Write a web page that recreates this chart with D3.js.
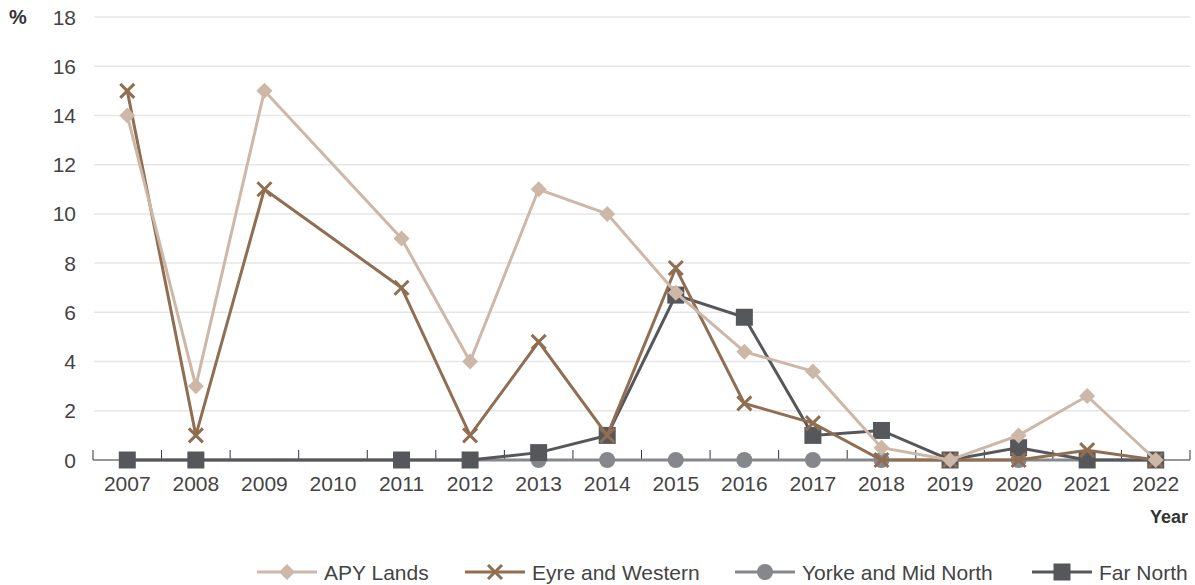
<!doctype html>
<html>
<head>
<meta charset="UTF-8">
<title>Regional chart</title>
<script src="https://cdn.jsdelivr.net/npm/d3@7"></script>
<style>
  body { margin: 0; background: #fff; }
  * { font-family: "Liberation Sans", Arial, sans-serif; }
</style>
</head>
<body>
<svg id="chart" width="1195" height="585"></svg>
<script>
// data (null = no point that year)
var years = ["2007","2008","2009","2010","2011","2012","2013","2014","2015","2016","2017","2018","2019","2020","2021","2022"];
var apyLands   = [14, 3, 15, null, 9, 4, 11, 10, 6.8, 4.4, 3.6, 0.5, 0, 1, 2.6, 0];
var eyreWest   = [15, 1, 11, null, 7, 1, 4.8, 1, 7.8, 2.3, 1.5, 0, 0, 0, 0.4, 0];
var yorkeMid   = [0, 0, null, null, 0, 0, 0, 0, 0, 0, 0, 0, 0, 0, 0, 0];
var farNorth   = [0, 0, null, null, 0, 0, 0.3, 1, 6.7, 5.8, 1, 1.2, 0, 0.5, 0, 0];
var yTicks = [0, 2, 4, 6, 8, 10, 12, 14, 16, 18];

// drawn bottom to top
var series = [
  {name: "Yorke and Mid North", values: yorkeMid, color: "#85878b", shape: "circle"},
  {name: "Far North",           values: farNorth, color: "#55575a", shape: "square"},
  {name: "Eyre and Western",    values: eyreWest, color: "#8f6e52", shape: "cross"},
  {name: "APY Lands",           values: apyLands, color: "#cdb8a8", shape: "diamond"}
];
var legendOrder = ["APY Lands", "Eyre and Western", "Yorke and Mid North", "Far North"];

var svg = d3.select("#chart");
var plotLeft = 93, plotRight = 1190, plotTop = 17, plotBottom = 460;

var x = d3.scaleBand().domain(years).range([plotLeft, plotRight]);
var y = d3.scaleLinear().domain([0, 18]).range([plotBottom, plotTop]);
var cx = function(yr) { return x(yr) + x.bandwidth() / 2; };

// gridlines
svg.append("g").selectAll("line")
  .data(yTicks.filter(function(d) { return d > 0; }))
  .enter().append("line")
    .attr("x1", plotLeft + 1).attr("x2", plotRight)
    .attr("y1", function(d) { return y(d); })
    .attr("y2", function(d) { return y(d); })
    .attr("stroke", "#e6e6e6")
    .attr("stroke-width", 1.5);

// y labels
svg.append("g").selectAll("text")
  .data(yTicks)
  .enter().append("text")
    .attr("x", 76)
    .attr("y", function(d) { return y(d); })
    .attr("dy", "0.36em")
    .attr("text-anchor", "end")
    .attr("font-size", 21)
    .attr("fill", "#444")
    .text(function(d) { return d; });

svg.append("text")
  .attr("x", 9).attr("y", y(18)).attr("dy", "0.36em")
  .attr("font-size", 20).attr("font-weight", "bold").attr("fill", "#333")
  .text("%");

// x axis: line at zero, ticks pointing up at band edges
var edges = years.map(function(d) { return x(d); }).concat([plotRight]);
svg.append("line")
  .attr("x1", plotLeft).attr("x2", plotRight)
  .attr("y1", plotBottom).attr("y2", plotBottom)
  .attr("stroke", "#333").attr("stroke-width", 1.2);
svg.append("g").selectAll("line")
  .data(edges)
  .enter().append("line")
    .attr("x1", function(d) { return d; }).attr("x2", function(d) { return d; })
    .attr("y1", plotBottom - 10).attr("y2", plotBottom)
    .attr("stroke", "#333").attr("stroke-width", 1);

svg.append("g").selectAll("text")
  .data(years)
  .enter().append("text")
    .attr("x", function(d) { return cx(d); })
    .attr("y", 491)
    .attr("text-anchor", "middle")
    .attr("font-size", 21)
    .attr("fill", "#444")
    .text(function(d) { return d; });

svg.append("text")
  .attr("x", 1188).attr("y", 523)
  .attr("text-anchor", "end")
  .attr("font-size", 18).attr("font-weight", "bold").attr("fill", "#333")
  .text("Year");

// marker drawing
function drawMarker(g, shape, color, px, py) {
  if (shape === "circle") {
    g.append("circle").attr("cx", px).attr("cy", py).attr("r", 8).attr("fill", color);
  } else if (shape === "square") {
    g.append("rect").attr("x", px - 8.5).attr("y", py - 8.5)
      .attr("width", 17).attr("height", 17).attr("fill", color);
  } else if (shape === "diamond") {
    g.append("path")
      .attr("d", "M" + px + "," + (py - 8) + "L" + (px + 8) + "," + py +
                 "L" + px + "," + (py + 8) + "L" + (px - 8) + "," + py + "Z")
      .attr("fill", color);
  } else {
    g.append("path")
      .attr("d", "M" + (px - 7) + "," + (py - 7) + "L" + (px + 7) + "," + (py + 7) +
                 "M" + (px + 7) + "," + (py - 7) + "L" + (px - 7) + "," + (py + 7))
      .attr("stroke", color).attr("stroke-width", 3).attr("fill", "none");
  }
}

var line = d3.line()
  .x(function(d) { return cx(d.year); })
  .y(function(d) { return y(d.value); });

series.forEach(function(s) {
  var pts = years.map(function(yr, i) { return {year: yr, value: s.values[i]}; })
    .filter(function(d) { return d.value !== null; });
  var g = svg.append("g");
  g.append("path")
    .datum(pts)
    .attr("d", line)
    .attr("fill", "none")
    .attr("stroke", s.color)
    .attr("stroke-width", 3);
  pts.forEach(function(d) { drawMarker(g, s.shape, s.color, cx(d.year), y(d.value)); });
});

// legend
var legendX = [257, 465, 735, 1032];
legendOrder.forEach(function(name, i) {
  var s = series.filter(function(d) { return d.name === name; })[0];
  var g = svg.append("g");
  var lx = legendX[i], ly = 572;
  g.append("line")
    .attr("x1", lx).attr("x2", lx + 60)
    .attr("y1", ly).attr("y2", ly)
    .attr("stroke", s.color).attr("stroke-width", 3);
  drawMarker(g, s.shape, s.color, lx + 30, ly);
  g.append("text")
    .attr("x", lx + 67).attr("y", ly).attr("dy", "0.36em")
    .attr("font-size", 21).attr("fill", "#444")
    .text(name);
});
</script>
</body>
</html>
